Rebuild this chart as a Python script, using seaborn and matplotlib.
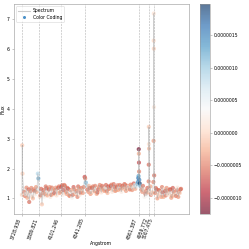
import numpy as np
import pandas as pd
import matplotlib
matplotlib.use("Agg")
import matplotlib.pyplot as plt
import matplotlib.ticker as mticker
from matplotlib.lines import Line2D
import seaborn as sns

# wavelength (Angstrom), flux and colour-coding value (units of 1e-6)
wave = [3725, 3728, 3731, 3740, 3755, 3770, 3785, 3796, 3810, 3825,
        3840, 3855, 3870, 3880, 3885, 3892, 3905, 3920, 3935, 3950,
        3965, 3980, 3995, 4010, 4025, 4040, 4055, 4070, 4085, 4100,
        4115, 4130, 4145, 4160, 4175, 4190, 4205, 4220, 4235, 4250,
        4265, 4280, 4295, 4310, 4325, 4335, 4340, 4347, 4355, 4370,
        4385, 4400, 4415, 4430, 4445, 4460, 4475, 4490, 4505, 4520,
        4535, 4550, 4565, 4580, 4595, 4610, 4625, 4640, 4655, 4670,
        4685, 4700, 4715, 4730, 4745, 4760, 4775, 4790, 4805, 4820,
        4835, 4845, 4852, 4856, 4859, 4861, 4862, 4863, 4864, 4866,
        4870, 4875, 4882, 4895, 4910, 4925, 4940, 4950, 4957, 4958,
        4959, 4960, 4961, 4968, 4980, 4995, 5003, 5005, 5006, 5007,
        5008, 5009, 5011, 5020, 5035, 5050, 5065, 5080, 5095, 5110,
        5125, 5140, 5155, 5170, 5185, 5200, 5215, 5230, 5245, 5260,
        5272]
flux = [1.12, 2.78, 1.83, 1.32, 1.08, 1.36, 1.18, 0.88, 1.24, 1.05,
        1.30, 1.14, 1.22, 1.83, 1.67, 1.30, 1.10, 0.80, 1.28, 1.15,
        1.34, 1.20, 1.38, 1.12, 1.30, 1.18, 1.36, 1.25, 1.40, 1.22,
        1.44, 1.28, 1.41, 1.15, 1.32, 1.08, 1.26, 1.12, 1.30, 1.18,
        1.05, 1.33, 1.20, 1.28, 1.38, 1.72, 1.67, 1.53, 1.45, 1.22,
        1.35, 1.18, 1.40, 1.25, 1.32, 1.20, 1.38, 1.28, 1.42, 1.30,
        1.36, 1.24, 1.40, 1.33, 1.46, 1.30, 1.38, 1.27, 1.44, 1.35,
        1.30, 1.42, 1.32, 1.45, 1.34, 1.40, 1.30, 1.43, 1.36, 1.44,
        1.40, 1.48, 1.55, 1.68, 1.75, 2.65, 2.50, 2.20, 1.90, 1.62,
        1.50, 1.42, 1.35, 1.22, 1.30, 1.15, 1.10, 1.20, 1.57, 2.13,
        3.40, 2.82, 2.67, 1.25, 1.12, 1.20, 1.55, 2.93, 6.29, 7.20,
        6.02, 4.06, 1.77, 1.18, 1.30, 1.12, 1.25, 1.05, 1.20, 1.32,
        1.10, 1.24, 1.15, 1.30, 1.08, 1.22, 1.12, 1.28, 1.05, 1.18,
        1.32]
color_coding = [0.00, -0.10, -0.05, 0.30, -0.50, -0.45, 0.10, -0.60, -0.40, 0.05,
                -0.45, 0.20, -0.30, 0.85, 1.20, 0.50, -0.50, -0.10, -0.55, -0.35,
                -0.60, 0.15, -0.40, -0.50, -0.20, -0.65, -0.40, 0.10, -0.55, -0.30,
                -0.60, -0.70, -0.50, -0.35, -0.65, -0.45, -0.05, -0.55, -0.40, 0.20,
                -0.50, -0.30, -0.60, -0.10, -0.45, -0.75, -0.50, 1.10, 0.80, -0.40,
                -0.55, -0.10, -0.50, -0.35, 0.15, -0.60, -0.40, -0.20, -0.55, -0.30,
                0.20, -0.50, -0.65, -0.35, -0.45, 0.00, -0.55, -0.30, -0.50, 0.10,
                -0.40, -0.60, -0.10, -0.45, -0.35, 0.20, -0.50, -0.30, 0.15, 0.40,
                0.60, 1.00, 1.40, 1.60, 1.30, -1.25, -0.30, -0.80, -0.50, 1.50,
                1.98, 1.10, 0.70, -0.40, 0.10, -0.50, 0.40, -0.30, -0.50, -0.60,
                -0.10, 0.05, -0.20, 0.20, -0.55, -0.10, -0.50, -0.35, 0.00, 0.10,
                -0.05, 0.15, -0.60, -0.45, -0.60, -0.10, -0.50, -0.35, -0.65, 0.10,
                -0.50, -0.40, 0.05, -0.60, -0.30, -0.55, 0.15, -0.50, -0.40, -0.05,
                -0.55]

# extra continuum pixels between the ones above
wave_b = [3747, 3762, 3777, 3792, 3803, 3817, 3832, 3847, 3862, 3898,
          3912, 3927, 3942, 3957, 3972, 3987, 4002, 4017, 4032, 4047,
          4062, 4077, 4092, 4107, 4122, 4137, 4152, 4167, 4182, 4197,
          4212, 4227, 4242, 4257, 4272, 4287, 4302, 4317, 4362, 4377,
          4392, 4407, 4422, 4437, 4452, 4467, 4482, 4497, 4512, 4527,
          4542, 4557, 4572, 4587, 4602, 4617, 4632, 4647, 4662, 4677,
          4692, 4707, 4722, 4737, 4752, 4767, 4782, 4797, 4812, 4827,
          4888, 4902, 4917, 4932, 4945, 4974, 4988, 5027, 5042, 5057,
          5072, 5087, 5102, 5117, 5132, 5147, 5162, 5177, 5192, 5207,
          5222, 5237, 5252, 5266]
flux_b = [1.22, 1.15, 1.02, 1.30, 1.10, 1.35, 1.00, 1.25, 1.38, 1.05,
          1.32, 1.18, 1.06, 1.40, 1.10, 1.30, 1.05, 1.36, 1.14, 1.28,
          1.10, 1.35, 1.18, 1.38, 1.12, 1.45, 1.22, 1.35, 1.10, 1.28,
          1.02, 1.38, 1.15, 1.25, 1.40, 1.12, 1.35, 1.18, 1.30, 1.42,
          1.15, 1.35, 1.22, 1.42, 1.15, 1.30, 1.45, 1.20, 1.36, 1.25,
          1.45, 1.18, 1.32, 1.42, 1.22, 1.48, 1.25, 1.38, 1.28, 1.45,
          1.22, 1.36, 1.48, 1.25, 1.42, 1.30, 1.46, 1.28, 1.50, 1.32,
          1.30, 1.42, 1.05, 1.25, 1.35, 1.40, 1.15, 1.35, 1.00, 1.28,
          1.20, 1.38, 1.05, 1.25, 1.35, 1.12, 1.30, 1.02, 1.35, 1.15,
          1.08, 1.36, 1.20, 1.30]
color_coding_b = [-0.50, 0.20, -0.30, -0.60, 0.30, -0.45, -0.20, -0.55, -0.35, 0.10,
                  -0.60, -0.40, 0.25, -0.55, -0.30, -0.65, 0.15, -0.50, -0.20, -0.45,
                  0.05, -0.60, -0.35, -0.70, 0.20, -0.55, -0.40, -0.60, -0.25, -0.50,
                  0.30, -0.65, -0.30, -0.45, -0.60, 0.10, -0.50, -0.35, -0.55, -0.20,
                  -0.40, -0.60, 0.20, -0.50, -0.30, -0.65, -0.45, 0.10, -0.55, -0.35,
                  -0.60, -0.20, -0.50, -0.70, 0.15, -0.55, -0.40, -0.60, -0.30, -0.50,
                  0.20, -0.45, -0.60, -0.35, -0.55, 0.10, -0.50, -0.40, -0.65, -0.30,
                  -0.40, -0.55, 0.30, -0.45, -0.60, -0.30, 0.20, -0.55, -0.35, -0.60,
                  0.10, -0.50, -0.30, -0.60, -0.40, 0.20, -0.55, -0.35, -0.65, -0.25,
                  -0.50, 0.15, -0.45, -0.60]

line_waves = [3728.938, 3889.821, 4101.246, 4341.285, 4861.387, 4959.772, 5007.475]
line_labels = ["3728.938", "3889.821", "4101.246", "4341.285", "4861.387", "4959.772", "5007.475"]

spec = pd.DataFrame({"wave": wave + wave_b, "flux": flux + flux_b,
                     "color": color_coding + color_coding_b}).sort_values("wave")
cvals = spec["color"].to_numpy() * 1e-6

fs = 3.3
fig = plt.figure(figsize=(2.49, 2.49), dpi=100)
ax = fig.add_axes([0.056, 0.141, 0.703, 0.843])
cax = fig.add_axes([0.803, 0.141, 0.040, 0.843])

sns.lineplot(data=spec, x="wave", y="flux", ax=ax, color="#aaaaaa", lw=0.5, alpha=0.6,
             sort=False)
sc = ax.scatter(spec["wave"], spec["flux"], c=cvals, cmap="RdBu", s=9, alpha=0.65, lw=0)

for w in line_waves:
    ax.axvline(w, color="grey", ls="--", lw=0.4, alpha=0.6)

ax.set_xticks(line_waves)
ax.set_xticklabels(line_labels, rotation=70, ha="right", fontsize=fs)
ax.tick_params(axis="y", labelsize=fs, length=1.5, width=0.4, pad=1.5, color="#999999")
ax.tick_params(axis="x", length=1.5, width=0.4, pad=1, color="#999999")
ax.set_xlabel("Angstrom", fontsize=fs, labelpad=1)
ax.set_ylabel("Flux", fontsize=fs, labelpad=1)
for sp in ax.spines.values():
    sp.set_color("#aaaaaa")
    sp.set_linewidth(0.5)

handles = [Line2D([], [], color="#cccccc", lw=0.8),
           Line2D([], [], ls="", marker="o", ms=2.2, color="#4a90c8", mew=0)]
leg = ax.legend(handles, ["Spectrum", "Color Coding"], loc="upper left", fontsize=fs,
                frameon=True, handlelength=2.5, borderpad=0.4, labelspacing=0.4)
leg.get_frame().set_linewidth(0.4)
leg.get_frame().set_edgecolor("#cccccc")

cb = fig.colorbar(sc, cax=cax)
cb.outline.set_linewidth(0.4)
cb.outline.set_edgecolor("#999999")
cb.ax.yaxis.set_major_formatter(mticker.FuncFormatter(lambda v, p: f"{v:.7f}".replace("-", "\u2212")))
cb.ax.tick_params(labelsize=fs, length=1.5, width=0.4, pad=1, color="#999999")

fig.savefig("out.png", dpi=100)
